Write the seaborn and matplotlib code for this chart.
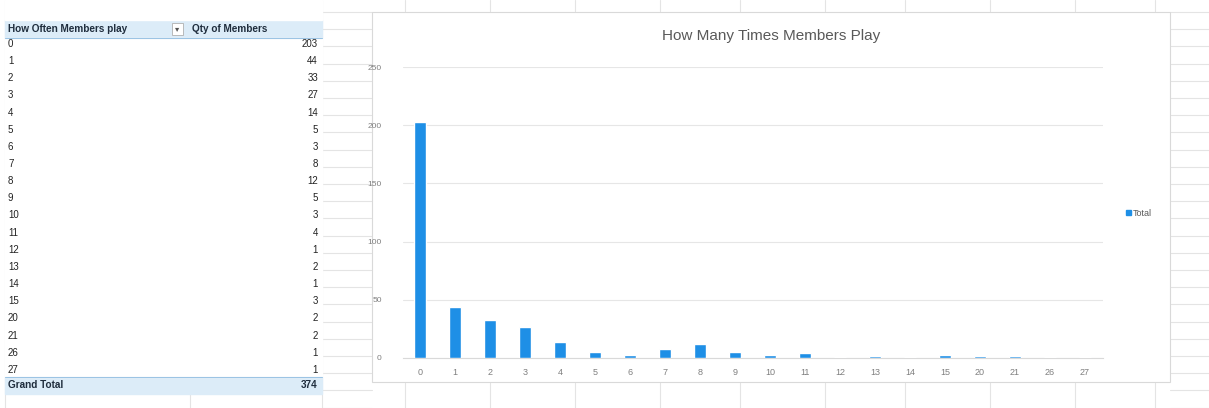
import matplotlib
matplotlib.use("Agg")
import matplotlib.pyplot as plt
import matplotlib.patches as mpatches
import seaborn as sns
import pandas as pd

# pivot table data
times_played = ["0", "1", "2", "3", "4", "5", "6", "7", "8", "9", "10",
                "11", "12", "13", "14", "15", "20", "21", "26", "27"]
qty_members = [203, 44, 33, 27, 14, 5, 3, 8, 12, 5, 3,
               4, 1, 2, 1, 3, 2, 2, 1, 1]
y_ticks = [0, 50, 100, 150, 200, 250]

W, H = 1209, 408
BLUE = "#1E8FE6"

sns.set_theme(style="white")
plt.rcParams['font.family'] = ['Liberation Sans', 'DejaVu Sans']

fig = plt.figure(figsize=(W / 100, H / 100), dpi=100)
fig.patch.set_facecolor("white")

# spreadsheet background in pixel coordinates
bg = fig.add_axes([0, 0, 1, 1])
bg.set_xlim(0, W)
bg.set_ylim(H, 0)
bg.axis("off")
for gx in [5, 190, 322, 405, 490, 575, 660, 740, 825, 905, 990, 1075, 1155]:
    bg.axvline(gx, color="#e4e4e4", lw=0.8, zorder=0)
for k in range(25):
    gy = 12 + k * 17.2
    bg.plot([322, 372], [gy, gy], color="#e4e4e4", lw=0.8, zorder=0)
    bg.plot([1170, W], [gy, gy], color="#e4e4e4", lw=0.8, zorder=0)

# pivot table
bg.add_patch(mpatches.Rectangle((5, 20), 317, 18, color="#dcecf8", zorder=1))
bg.add_patch(mpatches.Rectangle((5, 377), 317, 17, color="#dcecf8", zorder=1))
bg.add_patch(mpatches.Rectangle((5, 0), 317, 20, color="white", zorder=1))
bg.add_patch(mpatches.Rectangle((5, 38), 317, 339, color="white", zorder=1))
bg.plot([5, 322], [38, 38], color="#9cc4e4", lw=0.8, zorder=2)
bg.plot([5, 322], [377, 377], color="#9cc4e4", lw=0.8, zorder=2)
bg.text(8, 29.5, "How Often Members play", fontsize=7.2, fontweight="bold",
        color="#1f2d3d", va="center", zorder=3)
bg.add_patch(mpatches.Rectangle((172, 23), 11, 12, facecolor="white",
                                edgecolor="#b0b0b0", lw=0.6, zorder=3))
bg.text(177.5, 29.5, "▾", fontsize=6, color="#555555", ha="center",
        va="center", zorder=4)
bg.text(192, 29.5, "Qty of Members", fontsize=7.2, fontweight="bold",
        color="#1f2d3d", va="center", zorder=3)
for i, (lab, val) in enumerate(zip(times_played, qty_members)):
    ry = 44 + i * 17.15
    bg.text(8, ry, lab, fontsize=7, color="#222222", va="center", zorder=3)
    bg.text(318, ry, str(val), fontsize=7, color="#222222", va="center",
            ha="right", zorder=3)
bg.text(8, 385.5, "Grand Total", fontsize=7.2, fontweight="bold",
        color="#1f2d3d", va="center", zorder=3)
bg.text(318, 385.5, str(sum(qty_members)), fontsize=7.2, fontweight="bold",
        color="#1f2d3d", va="center", ha="right", zorder=3)

# chart area
bg.add_patch(mpatches.Rectangle((372, 12), 798, 370, facecolor="white",
                                edgecolor="#d9d9d9", lw=0.8, zorder=1))
bg.text(771, 36, "How Many Times Members Play", fontsize=11, color="#595959",
        ha="center", va="center", zorder=3)
bg.add_patch(mpatches.Rectangle((1126, 210), 5, 5, color=BLUE, zorder=3))
bg.text(1133, 213, "Total", fontsize=6.5, color="#595959", va="center",
        zorder=3)

ax = fig.add_axes([402.5 / W, 1 - 358 / H, 700 / W, (358 - 67) / H])
ax.set_facecolor("none")
df = pd.DataFrame({"Times": times_played, "Qty": qty_members})
sns.barplot(data=df, x="Times", y="Qty", order=times_played, color=BLUE,
            saturation=1, width=0.35, ax=ax, zorder=3)
ax.set_ylim(0, 250)
ax.set_xlim(-0.5, len(times_played) - 0.5)
ax.set_yticks(y_ticks)
ax.set_xlabel("")
ax.set_ylabel("")
ax.grid(axis="y", color="#e6e6e6", lw=0.8, zorder=0)
ax.tick_params(axis="y", labelsize=6, colors="#7f7f7f", length=0, pad=15)
ax.tick_params(axis="x", labelsize=6.5, colors="#7f7f7f", length=0, pad=7)
for s in ["top", "right", "left"]:
    ax.spines[s].set_visible(False)
ax.spines["bottom"].set_color("#d9d9d9")
ax.spines["bottom"].set_linewidth(0.8)

fig.savefig("out.png", dpi=100)
